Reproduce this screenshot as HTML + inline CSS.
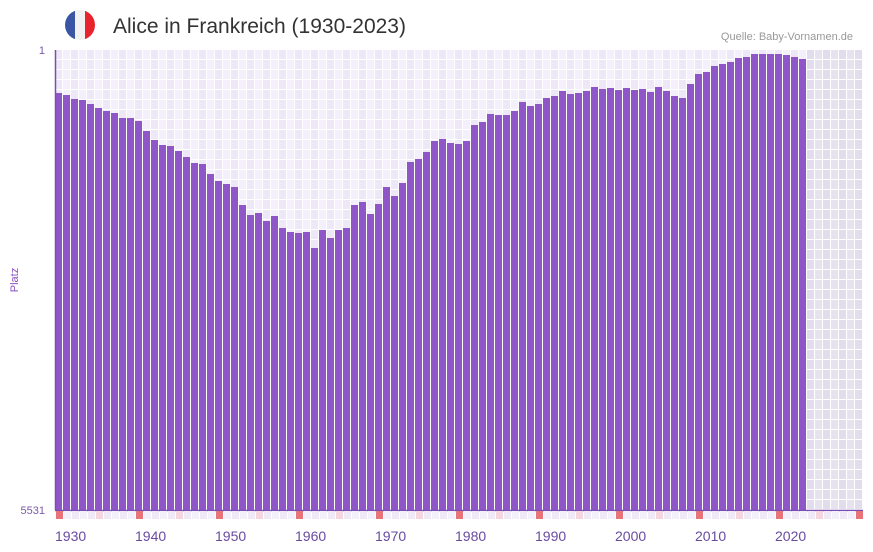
<!DOCTYPE html>
<html><head><meta charset="utf-8"><style>
html,body{margin:0;padding:0;background:#fff;width:873px;height:552px;overflow:hidden;font-family:"Liberation Sans",sans-serif}
</style></head><body>
<svg id="s" width="873" height="552" xmlns="http://www.w3.org/2000/svg" style="position:absolute;left:0;top:0">
<defs><clipPath id="c"><circle cx="80" cy="25" r="15"/></clipPath></defs>
<g clip-path="url(#c)"><rect x="65" y="10" width="10" height="30" fill="#3a55a4"/><rect x="75" y="10" width="10" height="30" fill="#f1f1f1"/><rect x="85" y="10" width="10" height="30" fill="#e8232d"/></g>
<text x="113" y="33" font-size="21" fill="#333">Alice in Frankreich (1930-2023)</text>
<text x="853" y="40" font-size="11" fill="#999" text-anchor="end">Quelle: Baby-Vornamen.de</text>
<g id="grid"></g>
<g id="bars"></g>
<line x1="55.5" y1="50" x2="55.5" y2="510" stroke="#7a4fb5" stroke-width="1.5"/>
<line x1="55" y1="510.5" x2="863" y2="510.5" stroke="#7a4fb5" stroke-width="1.5"/>
<g id="marks"></g>
<text x="45" y="54" font-size="11" fill="#7a5aaa" text-anchor="end">1</text>
<text x="45" y="514" font-size="11" fill="#7a5aaa" text-anchor="end">5531</text>
<text x="18" y="280" font-size="11" fill="#8a4ec0" text-anchor="middle" transform="rotate(-90 18 280)">Platz</text>
<g font-size="14" fill="#6a4aa0">
<text x="55" y="541">1930</text><text x="135" y="541">1940</text><text x="215" y="541">1950</text><text x="295" y="541">1960</text><text x="375" y="541">1970</text><text x="455" y="541">1980</text><text x="535" y="541">1990</text><text x="615" y="541">2000</text><text x="695" y="541">2010</text><text x="775" y="541">2020</text>
</g>
</svg>
<script>
var tops=[93,95,99,100,104,108,111,113,118,118,121,131,140,145,146,151,157,163,164,174,181,184,187,205,215,213,221,216,228,232,233,232,248,230,238,230,228,205,202,214,204,187,196,183,162,159,152,141,139,143,144,141,125,122,114,115,115,111,102,106,104,98,96,91,94,93,91,87,89,88,90,88,90,89,92,87,91,96,98,84,74,72,66,64,62,58,57,54,54,54,54,55,57,59];
var NS="http://www.w3.org/2000/svg";
function r(g,x,y,w,h,f){var e=document.createElementNS(NS,"rect");e.setAttribute("x",x);e.setAttribute("y",y);e.setAttribute("width",w);e.setAttribute("height",h);e.setAttribute("fill",f);document.getElementById(g).appendChild(e);}
for(var i=0;i<101;i++){
 var x=55+i*8, grey=i>=94;
 var f=grey?(i%2?"#e6e2ee":"#e2dded"):(i%2?"#f3effb":"#ede7f7");
 for(var j=0;j<46;j++){r("grid",x,50+j*10,7,9,f);}
 if(i<94){r("bars",x,tops[i],7,510-tops[i],"#8f56c7");}
 var m=i%10==0?"#e8747a":(i%10==5?"#f5d6df":(i%2?"#f4f0fb":"#eee8f7"));
 r("marks",x+1,511,7,8,m);
}
</script>
</body></html>
